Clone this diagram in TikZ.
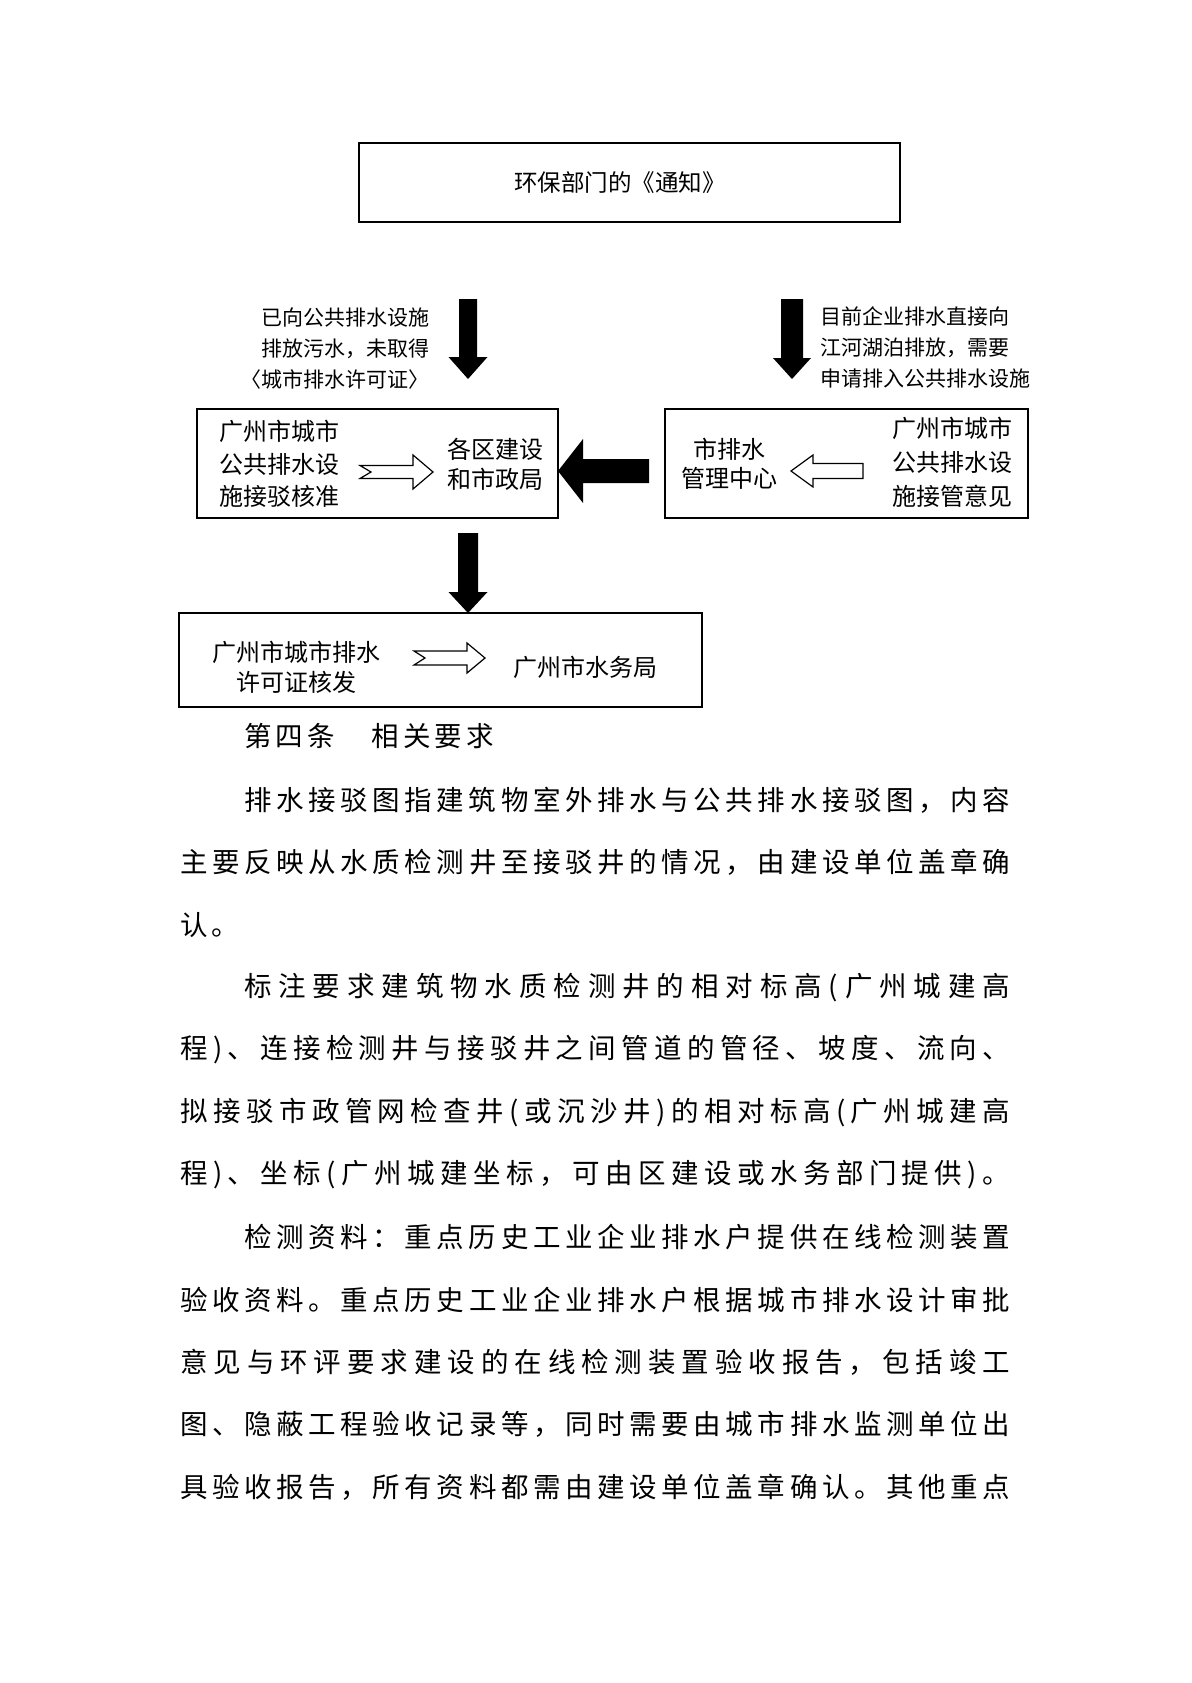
\documentclass[tikz,border=0pt]{standalone}
\usepackage{fontspec}
\setmainfont{Noto Sans CJK SC}
\makeatletter
\newXeTeXintercharclass\cjkcls
\count@="4E00
\loop
\XeTeXcharclass\count@=\cjkcls
\ifnum\count@<"9FFF
\advance\count@\@ne
\repeat
\XeTeXcharclass"3000=\cjkcls
\XeTeXcharclass"3001=\cjkcls
\XeTeXcharclass"3002=\cjkcls
\XeTeXcharclass"3008=\cjkcls
\XeTeXcharclass"3009=\cjkcls
\XeTeXcharclass"300A=\cjkcls
\XeTeXcharclass"300B=\cjkcls
\XeTeXcharclass"FF0C=\cjkcls
\XeTeXcharclass"FF1A=\cjkcls
\XeTeXcharclass40=\cjkcls
\XeTeXcharclass41=\cjkcls
\makeatother
\XeTeXinterchartokenstate=1
\XeTeXinterchartoks\cjkcls\cjkcls={\cjkglue}
\newdimen\cjkextra
\def\cjkglue{}
\newcommand\bodyfont{\fontsize{27.5}{30}\selectfont\cjkextra=4.3pt\def\cjkglue{\hskip\cjkextra plus 1fil\relax}}
\newcommand\fullline[2]{\makebox[#1pt][s]{#2}}
\begin{document}
\begin{tikzpicture}[x=1pt,y=-1pt,
  box/.style={draw=black,line width=2pt,inner sep=0pt,fill=none},
  lbl/.style={inner sep=0pt,font=\fontsize{21}{31}\selectfont},
  btxt/.style={inner sep=0pt,align=center},
  hollow/.style={draw=black,line width=1.2pt,fill=white,line join=miter},
  solidarrow/.style={fill=black},
  bline/.style={inner sep=0pt,anchor=west,font=\bodyfont}]
\path[use as bounding box,fill=white] (0,0) rectangle (1191,1683);

% boxes
\node[box,minimum width=541pt,minimum height=79pt] (top) at (629.5,182.5) {};
\node[box,minimum width=361pt,minimum height=109pt] (lbox) at (377.5,463.5) {};
\node[box,minimum width=363pt,minimum height=109pt] (rbox) at (846.5,463.5) {};
\node[box,minimum width=523pt,minimum height=94pt] (bbox) at (440.5,660) {};

% texts in diagram
\node[btxt,font=\fontsize{23.5}{30}\selectfont] (ttop) at (620,183) {环保部门的《通知》};
\node[lbl,align=right,anchor=east] (lab1) at (430,349) {已向公共排水设施\\排放污水，未取得\\〈城市排水许可证〉};
\node[lbl,align=left,anchor=west] (lab2) at (820,347) {目前企业排水直接向\\江河湖泊排放，需要\\申请排入公共排水设施};
\node[btxt,font=\fontsize{24}{32.5}\selectfont] (l1) at (279,464) {广州市城市\\公共排水设\\施接驳核准};
\node[btxt,font=\fontsize{24}{29.5}\selectfont] (l2) at (495,464.5) {各区建设\\和市政局};
\node[btxt,font=\fontsize{24}{29}\selectfont] (r1) at (729,464) {市排水\\管理中心};
\node[btxt,font=\fontsize{24}{34}\selectfont] (r2) at (952,462) {广州市城市\\公共排水设\\施接管意见};
\node[btxt,font=\fontsize{24}{29.5}\selectfont] (b1) at (296,667.5) {广州市城市排水\\许可证核发};
\node[btxt,font=\fontsize{24}{29.5}\selectfont] (b2) at (585,667) {广州市水务局};

% solid block arrows
\coordinate (d1top) at (468,299);
\coordinate (d1tip) at (468,379);
\fill[solidarrow] (d1top) ++(-9,0) -- ++(18,0) -- ++(0,58) -- ++(10.5,0) -- (d1tip) -- ++(-19.5,-22) -- ++(10.5,0) -- cycle;
\coordinate (d2top) at (792,299);
\coordinate (d2tip) at (792,379);
\fill[solidarrow] (d2top) ++(-11,0) -- ++(22,0) -- ++(0,59) -- ++(8,0) -- (d2tip) -- ++(-19,-21) -- ++(8,0) -- cycle;
\coordinate (d3top) at (468,533);
\coordinate (d3tip) at (468,613);
\fill[solidarrow] (d3top) ++(-10,0) -- ++(20,0) -- ++(0,59) -- ++(9.5,0) -- (d3tip) -- ++(-19.5,-21) -- ++(9.5,0) -- cycle;
\coordinate (l1tail) at (649,471);
\coordinate (l1tip) at (558,471);
\fill[solidarrow] (l1tail) ++(0,-12) -- ++(-66,0) -- ++(0,-20) -- (l1tip) -- ++(25,32) -- ++(0,-20) -- ++(66,0) -- cycle;

% hollow arrows
\draw[hollow] (360,465.5) -- (413,465.5) -- (413,455) -- (433,472) -- (413,489) -- (413,478.5) -- (360,478.5) -- (371,472) -- cycle;
\draw[hollow] (863,463.5) -- (813,463.5) -- (813,455) -- (791,471) -- (813,487) -- (813,478.5) -- (863,478.5) -- cycle;
\draw[hollow] (414,651) -- (467,651) -- (467,643) -- (485,658) -- (467,673) -- (467,665) -- (414,665) -- (425,658) -- cycle;

% body text
\node[bline] (p0) at (244,736) {第四条　相关要求};
\node[bline] (p1) at (244,800) {\fullline{766}{排水接驳图指建筑物室外排水与公共排水接驳图，内容}};
\node[bline] (p2) at (180,862.5) {\fullline{830}{主要反映从水质检测井至接驳井的情况，由建设单位盖章确}};
\node[bline] (p3) at (180,924.9) {认。};
\node[bline] (p4) at (244,987.4) {\fullline{766}{标注要求建筑物水质检测井的相对标高(广州城建高}};
\node[bline] (p5) at (180,1049.8) {\fullline{830}{程)、连接检测井与接驳井之间管道的管径、坡度、流向、}};
\node[bline] (p6) at (180,1112.3) {\fullline{830}{拟接驳市政管网检查井(或沉沙井)的相对标高(广州城建高}};
\node[bline] (p7) at (180,1174.7) {\fullline{830}{程)、坐标(广州城建坐标，可由区建设或水务部门提供)。}};
\node[bline] (p8) at (244,1237.2) {\fullline{766}{检测资料：重点历史工业企业排水户提供在线检测装置}};
\node[bline] (p9) at (180,1299.6) {\fullline{830}{验收资料。重点历史工业企业排水户根据城市排水设计审批}};
\node[bline] (p10) at (180,1362.1) {\fullline{830}{意见与环评要求建设的在线检测装置验收报告，包括竣工}};
\node[bline] (p11) at (180,1424.5) {\fullline{830}{图、隐蔽工程验收记录等，同时需要由城市排水监测单位出}};
\node[bline] (p12) at (180,1487) {\fullline{830}{具验收报告，所有资料都需由建设单位盖章确认。其他重点}};
\end{tikzpicture}
\end{document}
